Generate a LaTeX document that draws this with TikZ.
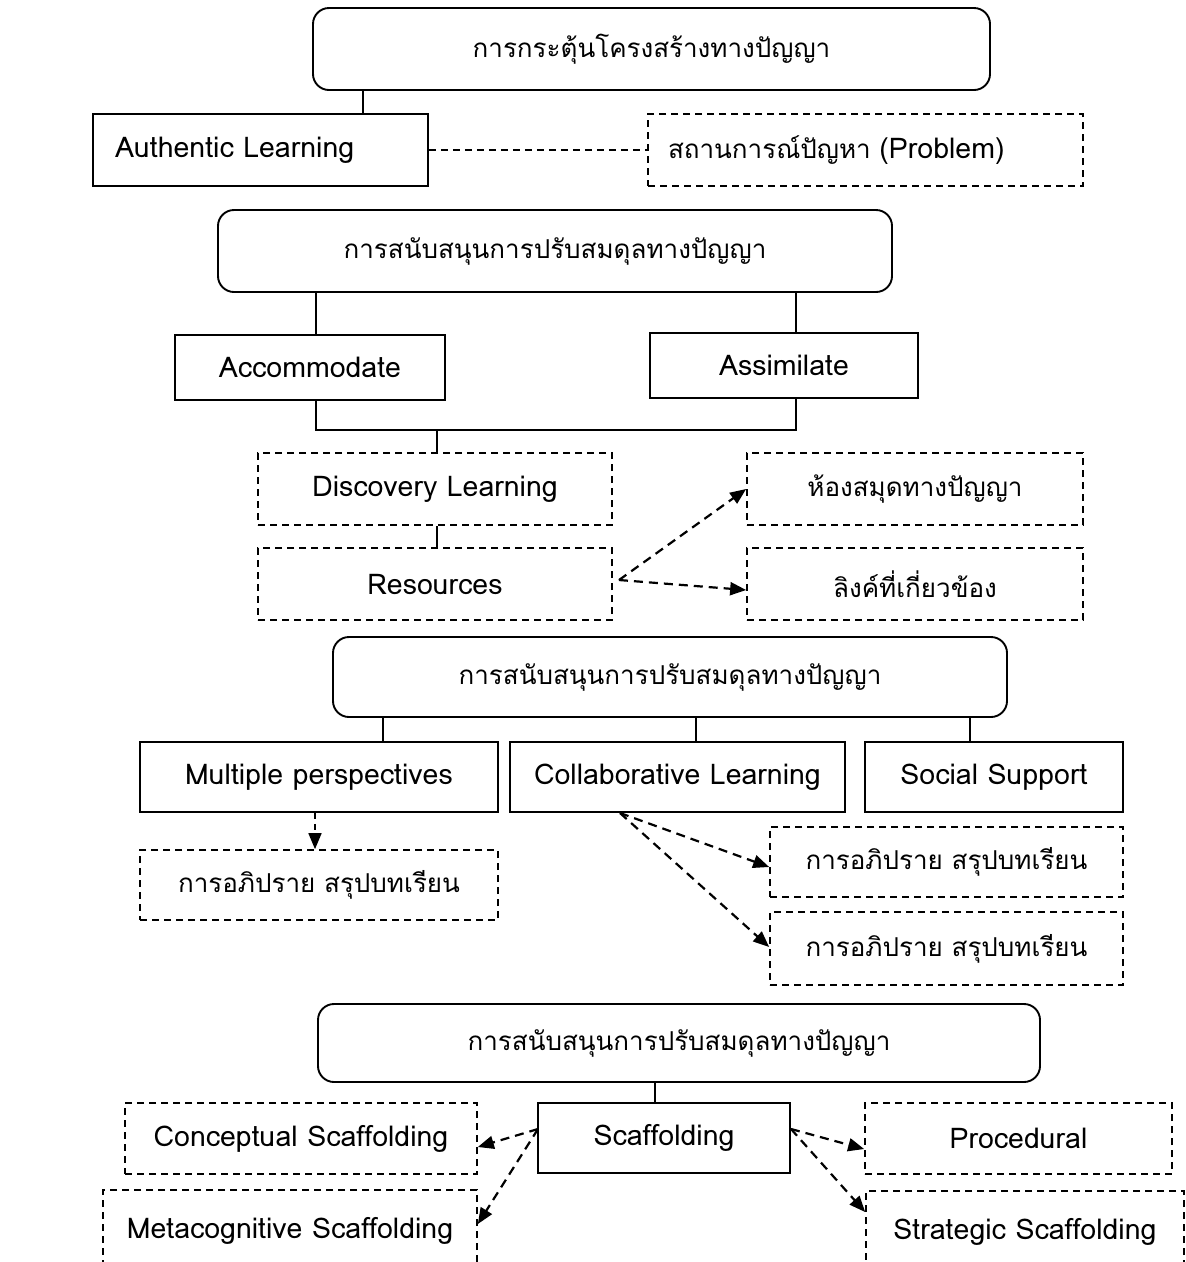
\documentclass[tikz,border=0pt]{standalone}
\usepackage{fontspec}
\setmainfont{Loma}[Script=Thai]
\usetikzlibrary{arrows.meta}
\newcommand{\latsz}{\fontsize{28.5}{32}\selectfont}
\newcommand{\thsz}{\fontsize{26}{30}\selectfont}
\tikzset{
  box/.style={draw, line width=1.9pt, inner sep=0pt, font=\thsz, align=center},
  latin/.style={font=\latsz},
  solidbox/.style={box},
  dashbox/.style={box, line width=1.7pt, dash pattern=on 7pt off 5pt},
  roundbox/.style={box, rounded corners=16pt},
  conn/.style={line width=1.7pt},
  dconn/.style={line width=1.7pt, dash pattern=on 7pt off 5pt},
  darrow/.style={line width=2.2pt, dash pattern=on 9pt off 6pt, -{Triangle[length=16pt,width=13pt]}},
  bx/.style n args={2}{minimum width=#1pt, minimum height=#2pt},
}
\begin{document}
\begin{tikzpicture}[x=1pt,y=-1pt]
\useasboundingbox (0,0) rectangle (1186,1262);
% section 1
\node[roundbox, bx={677}{82}] (top) at (651.5,49) {การกระตุ้นโครงสร้างทางปัญญา};
\node[solidbox, latin, minimum height=72pt, text width=291pt, inner xsep=22pt, align=left] (auth) at (260.5,150) {Authentic Learning};
\node[dashbox, minimum height=72pt, text width=395pt, inner xsep=20pt, align=left] (prob) at (865.5,150) {สถานการณ์ปัญหา {\latsz (Problem)}};
\draw[conn] (top.south -| 363,0) -- (auth.north -| 363,0);
\draw[dconn] (auth.east) -- (prob.west);
% section 2
\node[roundbox, bx={674}{82}] (sup1) at (555,251) {การสนับสนุนการปรับสมดุลทางปัญญา};
\node[solidbox, latin, bx={270}{65}] (acc) at (310,367.5) {Accommodate};
\node[solidbox, latin, bx={268}{65}] (asm) at (784,365.5) {Assimilate};
\draw[conn] (sup1.south -| 316,0) -- (acc.north -| 316,0);
\draw[conn] (sup1.south -| 796,0) -- (asm.north -| 796,0);
\node[dashbox, latin, bx={354}{72}] (disc) at (435,489) {Discovery Learning};
\node[dashbox, latin, bx={354}{72}] (res) at (435,584) {Resources};
\node[dashbox, bx={336}{72}] (lib) at (915,489) {ห้องสมุดทางปัญญา};
\node[dashbox, bx={336}{72}] (link) at (915,584) {ลิงค์ที่เกี่ยวข้อง};
\coordinate (j1) at (316,430);
\coordinate (j2) at (796,430);
\coordinate (j3) at (437,430);
\draw[conn] (acc.south -| j1) -- (j1) -- (j2) -- (asm.south -| j2);
\draw[conn] (j3) -- (disc.north -| j3);
\draw[conn] (disc.south -| j3) -- (res.north -| j3);
\coordinate (rs) at (619,580);
\draw[darrow] (rs) -- (lib.west);
\draw[darrow] (rs) -- (link.west |- 0,590);
% section 3
\node[roundbox, bx={674}{80}] (sup2) at (670,677) {การสนับสนุนการปรับสมดุลทางปัญญา};
\node[solidbox, latin, bx={358}{70}] (mp) at (319,777) {Multiple perspectives};
\node[solidbox, latin, bx={335}{70}] (cl) at (677.5,777) {Collaborative Learning};
\node[solidbox, latin, bx={258}{70}] (ss) at (994,777) {Social Support};
\draw[conn] (sup2.south -| 383,0) -- (mp.north -| 383,0);
\draw[conn] (sup2.south -| 696,0) -- (cl.north -| 696,0);
\draw[conn] (sup2.south -| 970,0) -- (ss.north -| 970,0);
\node[dashbox, bx={358}{70}] (dis1) at (319,885) {การอภิปราย สรุปบทเรียน};
\node[dashbox, bx={353}{70}] (dis2) at (946.5,862) {การอภิปราย สรุปบทเรียน};
\node[dashbox, bx={353}{73}] (dis3) at (946.5,948.5) {การอภิปราย สรุปบทเรียน};
\draw[darrow, line width=1.7pt, dash pattern=on 6pt off 5pt] (mp.south -| 315,0) -- (dis1.north -| 315,0);
\coordinate (cs) at (620,813);
\draw[darrow] (cs) -- (dis2.west |- 0,867);
\draw[darrow] (cs) -- (dis3.west |- 0,947);
% section 4
\node[roundbox, bx={722}{78}] (sup3) at (679,1043) {การสนับสนุนการปรับสมดุลทางปัญญา};
\node[solidbox, latin, bx={252}{70}] (scaf) at (664,1138) {Scaffolding};
\node[dashbox, latin, bx={352}{71}] (conc) at (301,1138.5) {Conceptual Scaffolding};
\node[dashbox, latin, bx={307}{71}] (proc) at (1018.5,1138.5) {Procedural};
\node[dashbox, latin, bx={374}{82}] (meta) at (290,1231) {Metacognitive Scaffolding};
\node[dashbox, latin, bx={318}{82}] (strat) at (1025,1232) {Strategic Scaffolding};
\draw[conn] (sup3.south -| 655,0) -- (scaf.north -| 655,0);
\coordinate (sl) at (538,1129);
\coordinate (sr) at (791,1129);
\draw[darrow] (sl) -- (conc.east |- 0,1147);
\draw[darrow] (sl) -- (meta.east |- 0,1224);
\draw[darrow] (sr) -- (proc.west |- 0,1149);
\draw[darrow] (sr) -- (strat.west |- 0,1212);
\end{tikzpicture}
\end{document}
